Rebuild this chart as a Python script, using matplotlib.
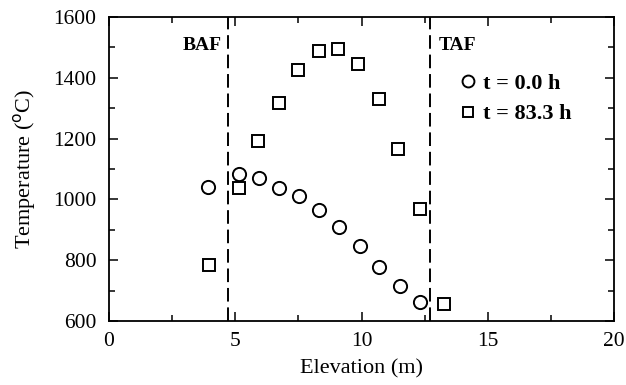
import matplotlib.pyplot as plt
from matplotlib.ticker import MultipleLocator

plt.rcParams['font.family'] = 'Liberation Serif'

# core temperature profiles
elev_t0 = [3.93, 5.13, 5.93, 6.72, 7.51, 8.31, 9.12, 9.93, 10.71, 11.51, 12.30]
temp_t0 = [1040, 1084, 1069, 1038, 1011, 965, 908, 847, 779, 716, 664]

elev_t83 = [3.97, 5.16, 5.91, 6.72, 7.50, 8.31, 9.07, 9.87, 10.69, 11.45, 12.30, 13.27]
temp_t83 = [784, 1038, 1193, 1318, 1426, 1489, 1494, 1444, 1329, 1165, 967, 656]

baf_elev = 4.72
taf_elev = 12.7

fig = plt.figure(figsize=(6.26, 3.85), dpi=100)
ax = fig.add_axes([0.174, 0.166, 0.807, 0.790])

ax.plot(elev_t0, temp_t0, 'o', mfc='white', mec='black', mew=1.4, ms=9.5,
        linestyle='none', label='t = 0.0 h')
ax.plot(elev_t83, temp_t83, 's', mfc='white', mec='black', mew=1.4, ms=8,
        linestyle='none', label='t = 83.3 h')

ax.axvline(baf_elev, color='black', lw=1.4, ls=(0, (7, 3)))
ax.axvline(taf_elev, color='black', lw=1.4, ls=(0, (7, 3)))
ax.text(baf_elev - 0.25, 1505, 'BAF', ha='right', va='center',
        fontsize=14, fontweight='bold')
ax.text(taf_elev + 0.35, 1505, 'TAF', ha='left', va='center',
        fontsize=14, fontweight='bold')

ax.set_xlim(0, 20)
ax.set_ylim(600, 1600)
ax.xaxis.set_major_locator(MultipleLocator(5))
ax.xaxis.set_minor_locator(MultipleLocator(2.5))
ax.yaxis.set_major_locator(MultipleLocator(200))
ax.yaxis.set_minor_locator(MultipleLocator(100))
ax.tick_params(which='both', direction='in', top=True, right=True,
               labelsize=15.5, width=1.1)
ax.tick_params(which='major', length=6.5)
ax.tick_params(which='minor', length=4)
ax.tick_params(axis='x', pad=8)
ax.tick_params(axis='y', pad=9)
for sp in ax.spines.values():
    sp.set_linewidth(1.3)

ax.set_xlabel('Elevation (m)', fontsize=16, labelpad=6)
ax.set_ylabel('Temperature ($^{\\rm o}$C)', fontsize=16, labelpad=11)

ax.legend(loc='upper left', bbox_to_anchor=(0.697, 0.815), frameon=False,
          handlelength=0.6, handletextpad=0.4, labelspacing=0.45,
          borderpad=0, borderaxespad=0, markerscale=0.9,
          prop={'weight': 'bold', 'size': 16})

fig.savefig('out.png', dpi=100)
